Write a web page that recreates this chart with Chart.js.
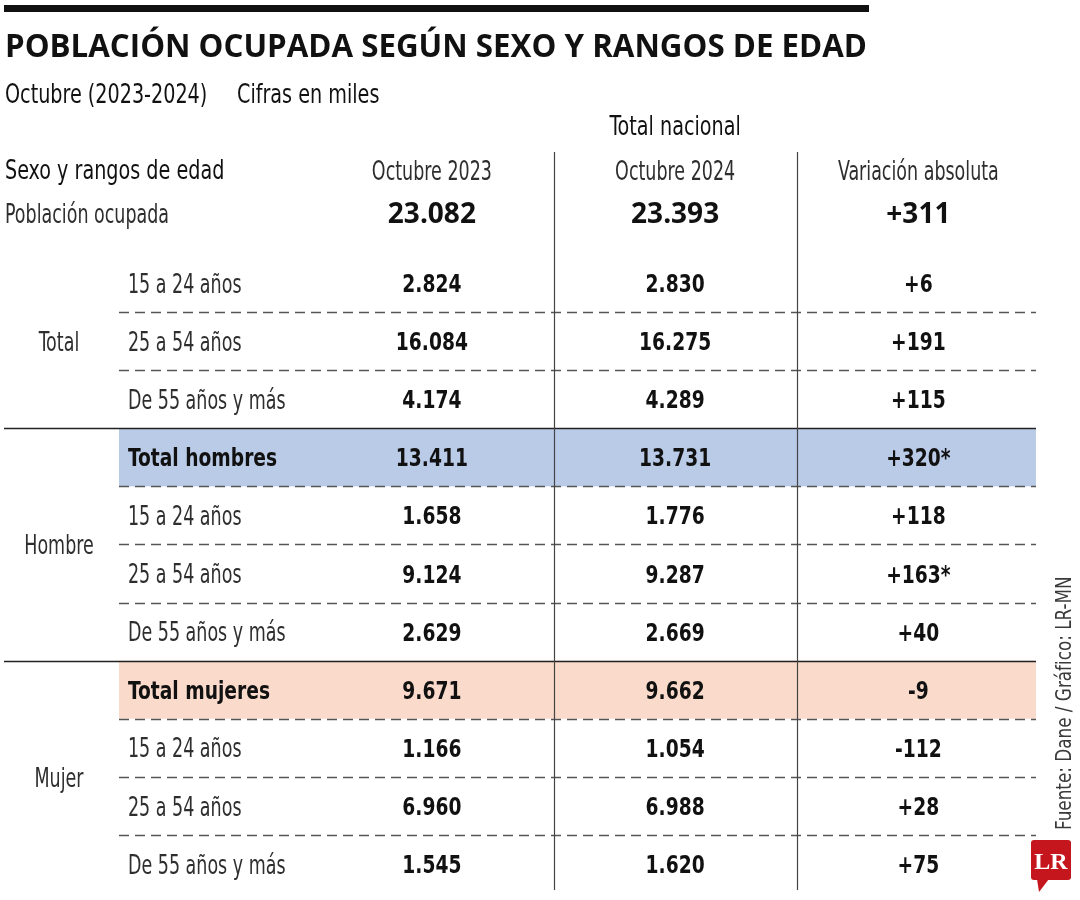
<!DOCTYPE html>
<html lang="es">
<head>
<meta charset="utf-8">
<title>Población ocupada según sexo y rangos de edad</title>
<script src="https://cdn.jsdelivr.net/npm/chart.js@4/dist/chart.umd.min.js"></script>
<style>
  html, body { margin: 0; padding: 0; background: #fff; }
  #wrap { width: 1080px; height: 900px; position: relative; }
</style>
</head>
<body>
<div id="wrap"><canvas id="tablaOcupados"></canvas></div>
<script>
// datos (cifras en miles)
const columnas = ['Sexo y rangos de edad', 'Octubre 2023', 'Octubre 2024', 'Variación absoluta'];
const grupos = ['Total', 'Total', 'Total', 'Hombre', 'Hombre', 'Hombre', 'Hombre', 'Mujer', 'Mujer', 'Mujer', 'Mujer'];
const rangos = ['15 a 24 años', '25 a 54 años', 'De 55 años y más', 'Total hombres', '15 a 24 años', '25 a 54 años', 'De 55 años y más',
    'Total mujeres', '15 a 24 años', '25 a 54 años', 'De 55 años y más'];
const oct2023 = [2824, 16084, 4174, 13411, 1658, 9124, 2629, 9671, 1166, 6960, 1545];
const oct2024 = [2830, 16275, 4289, 13731, 1776, 9287, 2669, 9662, 1054, 6988, 1620];
const variacion = [6, 191, 115, 320, 118, 163, 40, -9, -112, 28, 75];
const significativa = [false, false, false, true, false, true, false, false, false, false, false];
const poblacionOcupada = [23082, 23393, 311];

const colorBanda = { Hombre: '#bacbe8', Mujer: '#f9dacb' };
const NARROW = "'Liberation Sans Narrow', 'DejaVu Sans Condensed', 'Arial Narrow', sans-serif";

const fuentes = {
    light: { family: NARROW, weight: '400', size: 27, sx: 0.72, color: '#2e2e2e' },
    medio: { family: NARROW, weight: '400', size: 26, sx: 0.82, color: '#111' },
    negrita: { family: NARROW, weight: 'bold', size: 25, sx: 0.83, color: '#111' },
    grande: { family: "'Open Sans', 'Liberation Sans', sans-serif", weight: '700', size: 28, sx: 1, color: '#111' },
    titulo: { family: "'Open Sans', 'Liberation Sans', sans-serif", weight: '700', size: 33, sx: 1, color: '#111' },
    fuente: { family: NARROW, weight: '400', size: 21, sx: 0.89, color: '#3a3a3a' }
};

function miles(n) {
    const s = String(Math.abs(n)).replace(/\B(?=(\d{3})+(?!\d))/g, '.');
    return n < 0 ? '-' + s : s;
}
function signo(n) {
    return (n > 0 ? '+' : '') + miles(n);
}

const claves = rangos.map((r, i) => grupos[i] + ' / ' + r);

// texto con baseline centrado en las mayúsculas
function texto(ctx, s, x, y, f, align, maxWidth) {
    ctx.save();
    ctx.font = f.weight + ' ' + f.size + 'px ' + f.family;
    ctx.fillStyle = f.color;
    ctx.textAlign = align || 'center';
    ctx.textBaseline = 'alphabetic';
    ctx.translate(x, y + f.size * 0.36);
    ctx.scale(f.sx, 1);
    if (maxWidth) ctx.fillText(s, 0, 0, maxWidth); else ctx.fillText(s, 0, 0);
    ctx.restore();
}

const tablaPlugin = {
    id: 'tabla',
    beforeDraw(chart) {
        const { ctx, chartArea, scales } = chart;
        const y = scales.y;
        const paso = y.getPixelForValue(1) - y.getPixelForValue(0);
        ctx.save();
        ctx.fillStyle = '#fff';
        ctx.fillRect(0, 0, chart.width, chart.height);

        // bandas de totales
        const bandaIzq = chartArea.left + 52;
        const der = chartArea.right - 4;
        rangos.forEach((r, i) => {
            if (!r.startsWith('Total')) return;
            const cy = y.getPixelForValue(i);
            ctx.fillStyle = colorBanda[grupos[i]];
            ctx.fillRect(bandaIzq, cy - paso / 2, der - bandaIzq, paso);
        });

        // líneas horizontales entre filas
        for (let i = 0; i < rangos.length - 1; i++) {
            const ly = Math.round((y.getPixelForValue(i) + y.getPixelForValue(i + 1)) / 2) + 0.5;
            ctx.beginPath();
            if (grupos[i] !== grupos[i + 1]) {
                ctx.setLineDash([]);
                ctx.strokeStyle = '#222';
                ctx.lineWidth = 1.5;
                ctx.moveTo(4, ly);
            } else {
                ctx.setLineDash([10, 6]);
                ctx.strokeStyle = '#555';
                ctx.lineWidth = 1.5;
                ctx.moveTo(bandaIzq, ly);
            }
            ctx.lineTo(der, ly);
            ctx.stroke();
        }
        ctx.setLineDash([]);

        // líneas verticales entre columnas de valores
        const x = scales.x;
        ctx.strokeStyle = '#444';
        ctx.lineWidth = 1.2;
        [1, 2].forEach(c => {
            const lx = Math.round((x.getPixelForValue(c) + x.getPixelForValue(c + 1)) / 2) + 0.5;
            ctx.beginPath();
            ctx.moveTo(lx, chartArea.top - 102);
            ctx.lineTo(lx, chartArea.bottom - 3);
            ctx.stroke();
        });
        ctx.restore();
    },
    afterDatasetsDraw(chart) {
        const { ctx, chartArea, scales } = chart;
        const x = scales.x, y = scales.y;

        // cabecera
        ctx.save();
        ctx.fillStyle = '#111';
        ctx.fillRect(4, 5, 865, 7);
        ctx.restore();
        texto(ctx, 'POBLACIÓN OCUPADA SEGÚN SEXO Y RANGOS DE EDAD', 5, 45, fuentes.titulo, 'left', 862);
        texto(ctx, 'Octubre (2023-2024)', 5, 94, fuentes.medio, 'left');
        texto(ctx, 'Cifras en miles', 237, 94, fuentes.medio, 'left');

        texto(ctx, 'Total nacional', x.getPixelForValue(2), chartArea.top - 128, fuentes.medio);
        texto(ctx, columnas[0], 5, chartArea.top - 84, fuentes.medio, 'left');
        for (let c = 1; c < columnas.length; c++) {
            texto(ctx, columnas[c], x.getPixelForValue(c), chartArea.top - 84, fuentes.light);
        }
        texto(ctx, 'Población ocupada', 5, chartArea.top - 41, fuentes.light, 'left');
        poblacionOcupada.forEach((v, c) => {
            const s = c === 2 ? signo(v) : miles(v);
            texto(ctx, s, x.getPixelForValue(c + 1), chartArea.top - 41, fuentes.grande);
        });

        // grupos
        [...new Set(grupos)].forEach(g => {
            const a = grupos.indexOf(g), b = grupos.lastIndexOf(g);
            const cy = (y.getPixelForValue(a) + y.getPixelForValue(b)) / 2;
            texto(ctx, g, chartArea.left - 8, cy, fuentes.light);
        });

        // rangos
        rangos.forEach((r, i) => {
            const f = r.startsWith('Total') ? fuentes.negrita : fuentes.light;
            texto(ctx, r, chartArea.left + 61, y.getPixelForValue(i), f, 'left');
        });

        // valores, en la posición de cada punto
        chart.data.datasets.forEach((ds, d) => {
            chart.getDatasetMeta(d).data.forEach((pt, i) => {
                texto(ctx, ds.textos[i], pt.x, pt.y, fuentes.negrita);
            });
        });

        // fuente y logo
        ctx.save();
        ctx.translate(chart.width - 9, chartArea.bottom - 63);
        ctx.rotate(-Math.PI / 2);
        const f = fuentes.fuente;
        ctx.scale(f.sx, 1);
        ctx.font = f.weight + ' ' + f.size + 'px ' + f.family;
        ctx.fillStyle = f.color;
        ctx.textAlign = 'left';
        ctx.textBaseline = 'alphabetic';
        ctx.fillText('Fuente: Dane / Gráfico: LR-MN', 0, 0);
        ctx.restore();

        ctx.save();
        const lx = chart.width - 49, ly = chartArea.bottom - 53;
        ctx.fillStyle = '#c4161c';
        ctx.beginPath();
        ctx.roundRect(lx, ly, 40, 40, 3);
        ctx.fill();
        ctx.beginPath();
        ctx.moveTo(lx + 6, ly + 39);
        ctx.lineTo(lx + 18, ly + 39);
        ctx.lineTo(lx + 8, ly + 52);
        ctx.closePath();
        ctx.fill();
        ctx.font = "bold 24px 'Liberation Serif', serif";
        ctx.fillStyle = '#fff';
        ctx.textAlign = 'center';
        ctx.fillText('LR', lx + 20, ly + 29);
        ctx.restore();
    }
};

const valores = [
    oct2023.map(miles),
    oct2024.map(miles),
    variacion.map((v, i) => signo(v) + (significativa[i] ? '*' : ''))
];

new Chart(document.getElementById('tablaOcupados'), {
    type: 'scatter',
    data: {
        datasets: valores.map((textos, c) => ({
            label: columnas[c + 1],
            textos: textos,
            data: textos.map((t, i) => ({ x: columnas[c + 1], y: claves[i] })),
            pointRadius: 0,
            pointHoverRadius: 0
        }))
    },
    options: {
        responsive: true,
        maintainAspectRatio: false,
        animation: false,
        events: [],
        layout: { padding: { top: 254, bottom: 7, left: 67, right: 40 } },
        scales: {
            x: { type: 'category', labels: columnas, offset: true, display: false },
            y: { type: 'category', labels: claves, offset: true, display: false }
        },
        plugins: {
            legend: { display: false },
            tooltip: { enabled: false }
        }
    },
    plugins: [tablaPlugin]
});
</script>
</body>
</html>
